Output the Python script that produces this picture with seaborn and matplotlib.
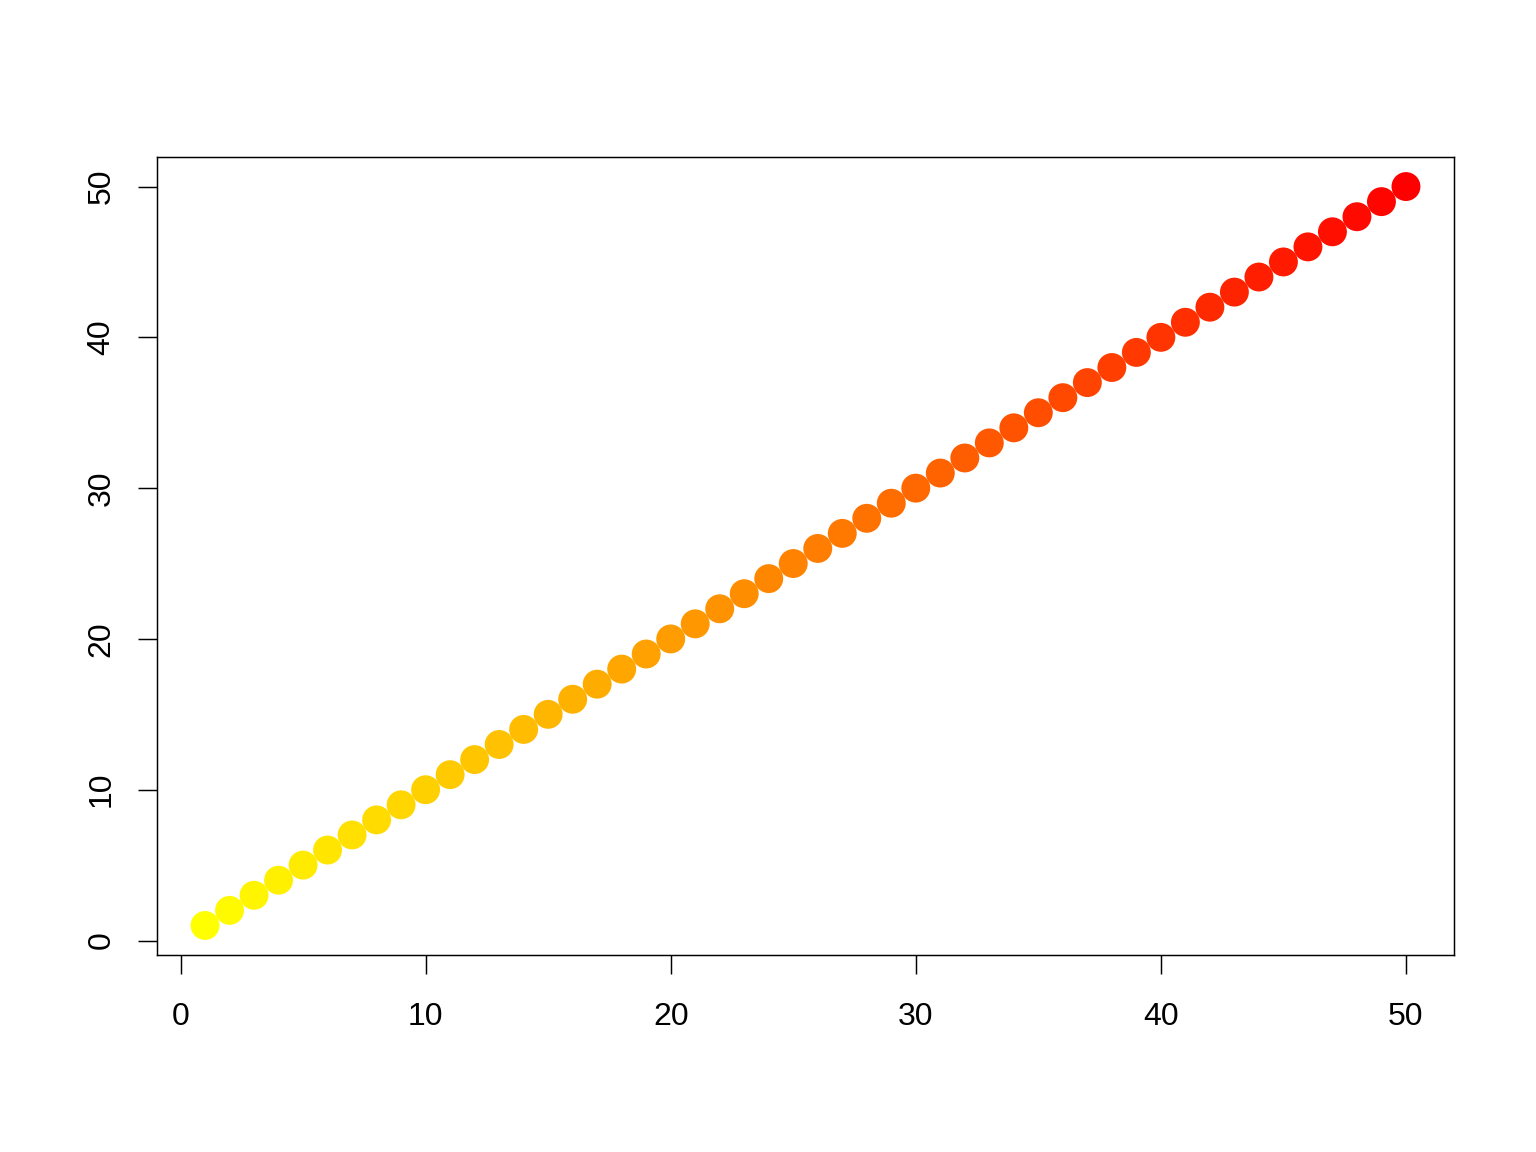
import matplotlib
matplotlib.use("Agg")
import matplotlib.pyplot as plt
from matplotlib.colors import LinearSegmentedColormap
import seaborn as sns

# Data: index vs value, coloured from yellow (low) to red (high)
x_vals = [1, 2, 3, 4, 5, 6, 7, 8, 9, 10,
          11, 12, 13, 14, 15, 16, 17, 18, 19, 20,
          21, 22, 23, 24, 25, 26, 27, 28, 29, 30,
          31, 32, 33, 34, 35, 36, 37, 38, 39, 40,
          41, 42, 43, 44, 45, 46, 47, 48, 49, 50]
y_vals = [1, 2, 3, 4, 5, 6, 7, 8, 9, 10,
          11, 12, 13, 14, 15, 16, 17, 18, 19, 20,
          21, 22, 23, 24, 25, 26, 27, 28, 29, 30,
          31, 32, 33, 34, 35, 36, 37, 38, 39, 40,
          41, 42, 43, 44, 45, 46, 47, 48, 49, 50]
tick_vals = [0, 10, 20, 30, 40, 50]

sns.set_style("white")
plt.rcParams["font.family"] = ["Liberation Sans", "DejaVu Sans"]

heat = LinearSegmentedColormap.from_list("yellow_red", ["#FFFF00", "#FF0000"])

fig = plt.figure(figsize=(16, 12), dpi=96)
ax = fig.add_axes([157 / 1536, 197 / 1152, 1297 / 1536, 798 / 1152])

sns.scatterplot(x=x_vals, y=y_vals, hue=x_vals, palette=heat, hue_norm=(1, 50),
                s=470, linewidth=0, legend=False, ax=ax)

ax.set_xlim(-0.96, 51.96)
ax.set_ylim(-0.96, 51.96)
ax.set_xticks(tick_vals)
ax.set_yticks(tick_vals)
ax.tick_params(axis="both", direction="out", length=14.25, width=1.1,
               color="black", labelsize=24, labelcolor="black",
               bottom=True, left=True)
ax.tick_params(axis="x", pad=21)
ax.tick_params(axis="y", pad=16, labelrotation=90)
for lab in ax.get_yticklabels():
    lab.set_va("center")
for side in ["left", "right", "top", "bottom"]:
    ax.spines[side].set_visible(True)
    ax.spines[side].set_color("black")
    ax.spines[side].set_linewidth(1.1)

ax.set_xlabel("")
ax.set_ylabel("")

fig.savefig("out.png", dpi=96, facecolor="white")
